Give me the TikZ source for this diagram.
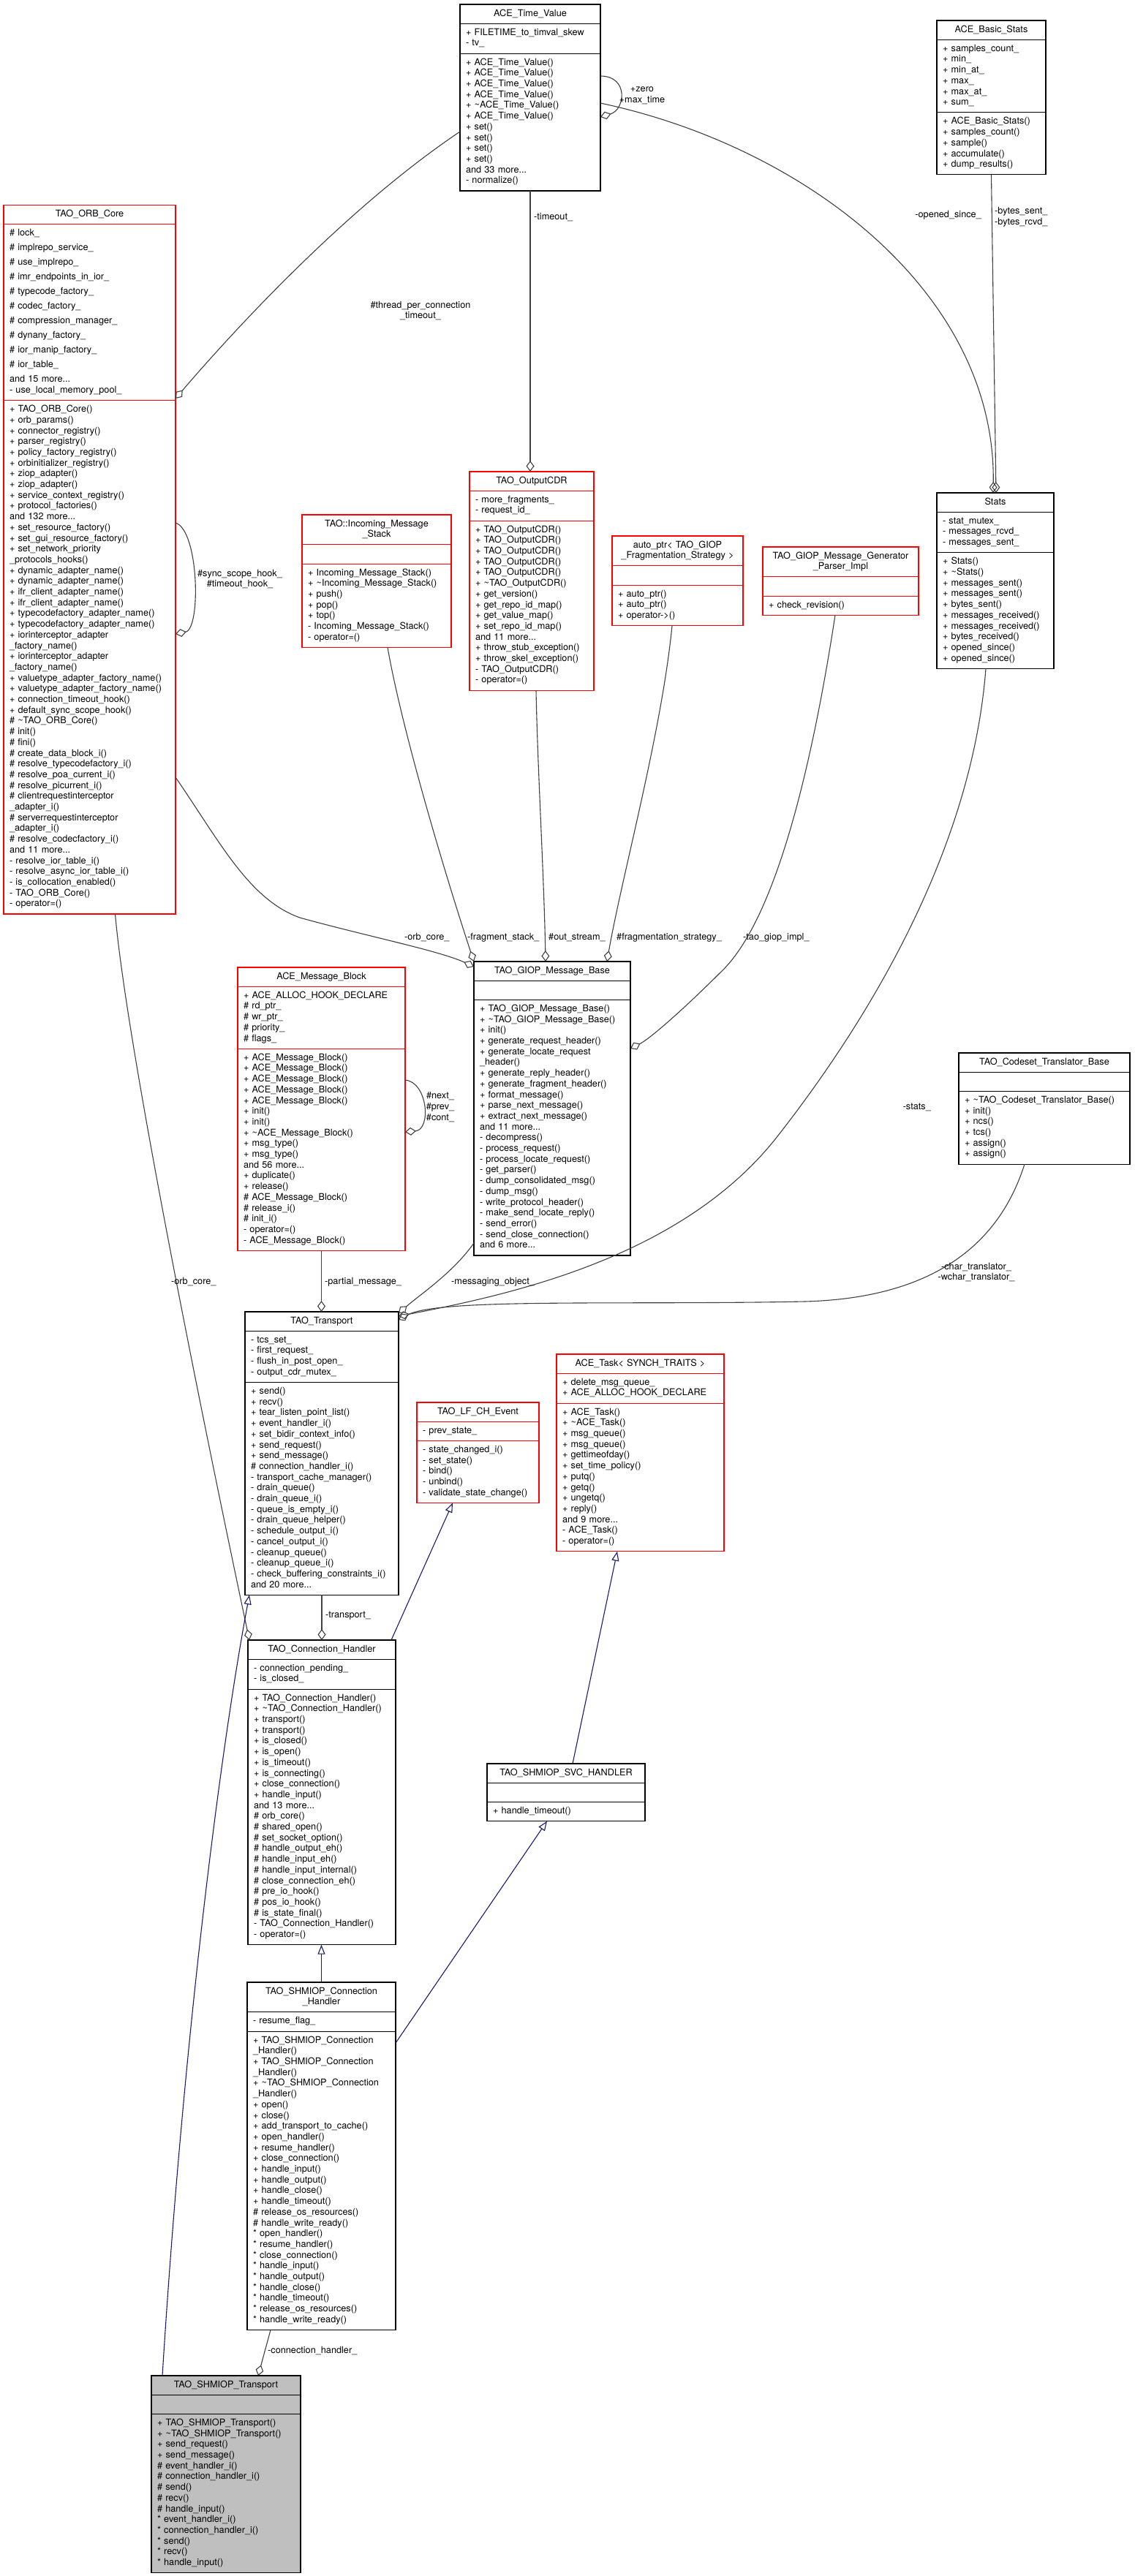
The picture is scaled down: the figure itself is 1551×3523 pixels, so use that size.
\documentclass[tikz,border=0pt]{standalone}
\usepackage{fontspec}
\setmainfont{TeX Gyre Heros}
\usetikzlibrary{shapes.multipart,arrows.meta}
\definecolor{edgegray}{HTML}{404040}
\definecolor{inhblue}{HTML}{191970}
\definecolor{leafgray}{HTML}{BFBFBF}
\begin{document}
\begin{tikzpicture}
  [x=1pt,y=-1pt,
   every node/.style={font=\fontsize{12.7}{14.7}\selectfont},
   cls/.style={rectangle split,rectangle split parts=3,draw=black,line width=1.1pt,
     inner xsep=8pt,inner ysep=5.2pt,outer sep=0pt,align=left,anchor=north west,fill=white},
   cut/.style={cls,draw=red},
   focus/.style={cls,fill=leafgray},
   lbl/.style={inner sep=0pt},
   use/.style={draw=edgegray,line width=1.1pt,-{Diamond[open,length=15pt,width=11pt]}},
   isa/.style={draw=inhblue,line width=1.1pt,-{Triangle[open,length=13pt,width=10pt]}}]
 \useasboundingbox (0,0) rectangle (1551,3523);
 \fill[white] (0,0) rectangle (1551,3523);

 % classes
 \node[cls,text width=176pt] (tv) at (629,6)
  {\makebox[\linewidth]{\strut ACE\_Time\_Value}
   \nodepart{two}\strut + FILETIME\_to\_timval\_skew\\- tv\_\strut
   \nodepart{three}\strut + ACE\_Time\_Value()\\+ ACE\_Time\_Value()\\+ ACE\_Time\_Value()\\+ ACE\_Time\_Value()\\+ \textasciitilde ACE\_Time\_Value()\\+ ACE\_Time\_Value()\\+ set()\\+ set()\\+ set()\\+ set()\\and 33 more...\\- normalize()\strut};
 \node[cls,text width=133pt] (bstats) at (1281,28)
  {\makebox[\linewidth]{\strut ACE\_Basic\_Stats}
   \nodepart{two}\strut + samples\_count\_\\+ min\_\\+ min\_at\_\\+ max\_\\+ max\_at\_\\+ sum\_\strut
   \nodepart{three}\strut + ACE\_Basic\_Stats()\\+ samples\_count()\\+ sample()\\+ accumulate()\\+ dump\_results()\strut};
 \node[cut,text width=219pt,anchor=south west] (orb) at (5,1250)
  {\makebox[\linewidth]{\strut TAO\_ORB\_Core}
   \nodepart{two}\setlength{\baselineskip}{20pt}\strut \# lock\_\\\# implrepo\_service\_\\\# use\_implrepo\_\\\# imr\_endpoints\_in\_ior\_\\\# typecode\_factory\_\\\# codec\_factory\_\\\# compression\_manager\_\\\# dynany\_factory\_\\\# ior\_manip\_factory\_\\\# ior\_table\_\\and 15 more...\\- use\_local\_memory\_pool\_\strut
   \nodepart{three}\strut + TAO\_ORB\_Core()\\+ orb\_params()\\+ connector\_registry()\\+ parser\_registry()\\+ policy\_factory\_registry()\\+ orbinitializer\_registry()\\+ ziop\_adapter()\\+ ziop\_adapter()\\+ service\_context\_registry()\\+ protocol\_factories()\\and 132 more...\\+ set\_resource\_factory()\\+ set\_gui\_resource\_factory()\\+ set\_network\_priority\\\_protocols\_hooks()\\+ dynamic\_adapter\_name()\\+ dynamic\_adapter\_name()\\+ ifr\_client\_adapter\_name()\\+ ifr\_client\_adapter\_name()\\+ typecodefactory\_adapter\_name()\\+ typecodefactory\_adapter\_name()\\+ iorinterceptor\_adapter\\\_factory\_name()\\+ iorinterceptor\_adapter\\\_factory\_name()\\+ valuetype\_adapter\_factory\_name()\\+ valuetype\_adapter\_factory\_name()\\+ connection\_timeout\_hook()\\+ default\_sync\_scope\_hook()\\\# \textasciitilde TAO\_ORB\_Core()\\\# init()\\\# fini()\\\# create\_data\_block\_i()\\\# resolve\_typecodefactory\_i()\\\# resolve\_poa\_current\_i()\\\# resolve\_picurrent\_i()\\\# clientrequestinterceptor\\\_adapter\_i()\\\# serverrequestinterceptor\\\_adapter\_i()\\\# resolve\_codecfactory\_i()\\and 11 more...\\- resolve\_ior\_table\_i()\\- resolve\_async\_ior\_table\_i()\\- is\_collocation\_enabled()\\- TAO\_ORB\_Core()\\- operator=()\strut};
 \node[cut,text width=188pt] (ims) at (413,704)
  {\makebox[\linewidth]{\strut TAO::Incoming\_Message}\\\makebox[\linewidth]{\_Stack\strut}
   \nodepart{two}\strut
   \nodepart{three}\strut + Incoming\_Message\_Stack()\\+ \textasciitilde Incoming\_Message\_Stack()\\+ push()\\+ pop()\\+ top()\\- Incoming\_Message\_Stack()\\- operator=()\strut};
 \node[cut,text width=154pt] (cdr) at (642,645)
  {\makebox[\linewidth]{\strut TAO\_OutputCDR}
   \nodepart{two}\strut - more\_fragments\_\\- request\_id\_\strut
   \nodepart{three}\strut + TAO\_OutputCDR()\\+ TAO\_OutputCDR()\\+ TAO\_OutputCDR()\\+ TAO\_OutputCDR()\\+ TAO\_OutputCDR()\\+ \textasciitilde TAO\_OutputCDR()\\+ get\_version()\\+ get\_repo\_id\_map()\\+ get\_value\_map()\\+ set\_repo\_id\_map()\\and 11 more...\\+ throw\_stub\_exception()\\+ throw\_skel\_exception()\\- TAO\_OutputCDR()\\- operator=()\strut};
 \node[cut,text width=163pt] (aptr) at (837,733)
  {\makebox[\linewidth]{\strut auto\_ptr< TAO\_GIOP}\\\makebox[\linewidth]{\_Fragmentation\_Strategy >\strut}
   \nodepart{two}\strut
   \nodepart{three}\strut + auto\_ptr()\\+ auto\_ptr()\\+ operator->()\strut};
 \node[cut,text width=197pt] (gpi) at (1043,748)
  {\makebox[\linewidth]{\strut TAO\_GIOP\_Message\_Generator}\\\makebox[\linewidth]{\_Parser\_Impl\strut}
   \nodepart{two}\strut
   \nodepart{three}\strut + check\_revision()\strut};
 \node[cls,text width=144pt] (stats) at (1281,674)
  {\makebox[\linewidth]{\strut Stats}
   \nodepart{two}\strut - stat\_mutex\_\\- messages\_rcvd\_\\- messages\_sent\_\strut
   \nodepart{three}\strut + Stats()\\+ \textasciitilde Stats()\\+ messages\_sent()\\+ messages\_sent()\\+ bytes\_sent()\\+ messages\_received()\\+ messages\_received()\\+ bytes\_received()\\+ opened\_since()\\+ opened\_since()\strut};
 \node[cut,text width=213pt] (amb) at (325,1323)
  {\makebox[\linewidth]{\strut ACE\_Message\_Block}
   \nodepart{two}\strut + ACE\_ALLOC\_HOOK\_DECLARE\\\# rd\_ptr\_\\\# wr\_ptr\_\\\# priority\_\\\# flags\_\strut
   \nodepart{three}\strut + ACE\_Message\_Block()\\+ ACE\_Message\_Block()\\+ ACE\_Message\_Block()\\+ ACE\_Message\_Block()\\+ ACE\_Message\_Block()\\+ init()\\+ init()\\+ \textasciitilde ACE\_Message\_Block()\\+ msg\_type()\\+ msg\_type()\\and 56 more...\\+ duplicate()\\+ release()\\\# ACE\_Message\_Block()\\\# release\_i()\\\# init\_i()\\- operator=()\\- ACE\_Message\_Block()\strut};
 \node[cls,text width=198pt] (gmb) at (648,1315)
  {\makebox[\linewidth]{\strut TAO\_GIOP\_Message\_Base}
   \nodepart{two}\strut
   \nodepart{three}\strut + TAO\_GIOP\_Message\_Base()\\+ \textasciitilde TAO\_GIOP\_Message\_Base()\\+ init()\\+ generate\_request\_header()\\+ generate\_locate\_request\\\_header()\\+ generate\_reply\_header()\\+ generate\_fragment\_header()\\+ format\_message()\\+ parse\_next\_message()\\+ extract\_next\_message()\\and 11 more...\\- decompress()\\- process\_request()\\- process\_locate\_request()\\- get\_parser()\\- dump\_consolidated\_msg()\\- dump\_msg()\\- write\_protocol\_header()\\- make\_send\_locate\_reply()\\- send\_error()\\- send\_close\_connection()\\and 6 more...\strut};
 \node[cls,text width=218pt] (ctb) at (1311,1440)
  {\makebox[\linewidth]{\strut TAO\_Codeset\_Translator\_Base}
   \nodepart{two}\strut
   \nodepart{three}\strut + \textasciitilde TAO\_Codeset\_Translator\_Base()\\+ init()\\+ ncs()\\+ tcs()\\+ assign()\\+ assign()\strut};
 \node[cls,text width=194pt] (tr) at (335,1794)
  {\makebox[\linewidth]{\strut TAO\_Transport}
   \nodepart{two}\strut - tcs\_set\_\\- first\_request\_\\- flush\_in\_post\_open\_\\- output\_cdr\_mutex\_\strut
   \nodepart{three}\strut + send()\\+ recv()\\+ tear\_listen\_point\_list()\\+ event\_handler\_i()\\+ set\_bidir\_context\_info()\\+ send\_request()\\+ send\_message()\\\# connection\_handler\_i()\\- transport\_cache\_manager()\\- drain\_queue()\\- drain\_queue\_i()\\- queue\_is\_empty\_i()\\- drain\_queue\_helper()\\- schedule\_output\_i()\\- cancel\_output\_i()\\- cleanup\_queue()\\- cleanup\_queue\_i()\\- check\_buffering\_constraints\_i()\\and 20 more...\strut};
 \node[cut,text width=151pt] (lfch) at (570,1918)
  {\makebox[\linewidth]{\strut TAO\_LF\_CH\_Event}
   \nodepart{two}\strut - prev\_state\_\strut
   \nodepart{three}\strut - state\_changed\_i()\\- set\_state()\\- bind()\\- unbind()\\- validate\_state\_change()\strut};
 \node[cut,text width=213pt] (task) at (761,1852)
  {\makebox[\linewidth]{\strut ACE\_Task< SYNCH\_TRAITS >}
   \nodepart{two}\strut + delete\_msg\_queue\_\\+ ACE\_ALLOC\_HOOK\_DECLARE\strut
   \nodepart{three}\strut + ACE\_Task()\\+ \textasciitilde ACE\_Task()\\+ msg\_queue()\\+ msg\_queue()\\+ gettimeofday()\\+ set\_time\_policy()\\+ putq()\\+ getq()\\+ ungetq()\\+ reply()\\and 9 more...\\- ACE\_Task()\\- operator=()\strut};
 \node[cls,text width=186pt] (ch) at (339,2243)
  {\makebox[\linewidth]{\strut TAO\_Connection\_Handler}
   \nodepart{two}\strut - connection\_pending\_\\- is\_closed\_\strut
   \nodepart{three}\strut + TAO\_Connection\_Handler()\\+ \textasciitilde TAO\_Connection\_Handler()\\+ transport()\\+ transport()\\+ is\_closed()\\+ is\_open()\\+ is\_timeout()\\+ is\_connecting()\\+ close\_connection()\\+ handle\_input()\\and 13 more...\\\# orb\_core()\\\# shared\_open()\\\# set\_socket\_option()\\\# handle\_output\_eh()\\\# handle\_input\_eh()\\\# handle\_input\_internal()\\\# close\_connection\_eh()\\\# pre\_io\_hook()\\\# pos\_io\_hook()\\\# is\_state\_final()\\- TAO\_Connection\_Handler()\\- operator=()\strut};
 \node[cls,text width=200pt] (svc) at (666,2412)
  {\makebox[\linewidth]{\strut TAO\_SHMIOP\_SVC\_HANDLER}
   \nodepart{two}\strut
   \nodepart{three}\strut + handle\_timeout()\strut};
 \node[cls,text width=187pt] (shch) at (338,2711)
  {\makebox[\linewidth]{\strut TAO\_SHMIOP\_Connection}\\\makebox[\linewidth]{\_Handler\strut}
   \nodepart{two}\strut - resume\_flag\_\strut
   \nodepart{three}\strut + TAO\_SHMIOP\_Connection\\\_Handler()\\+ TAO\_SHMIOP\_Connection\\\_Handler()\\+ \textasciitilde TAO\_SHMIOP\_Connection\\\_Handler()\\+ open()\\+ close()\\+ add\_transport\_to\_cache()\\+ open\_handler()\\+ resume\_handler()\\+ close\_connection()\\+ handle\_input()\\+ handle\_output()\\+ handle\_close()\\+ handle\_timeout()\\\# release\_os\_resources()\\\# handle\_write\_ready()\\{}* open\_handler()\\{}* resume\_handler()\\{}* close\_connection()\\{}* handle\_input()\\{}* handle\_output()\\{}* handle\_close()\\{}* handle\_timeout()\\{}* release\_os\_resources()\\{}* handle\_write\_ready()\strut};
 \node[focus,text width=188pt] (shtr) at (207,3249)
  {\makebox[\linewidth]{\strut TAO\_SHMIOP\_Transport}
   \nodepart{two}\strut
   \nodepart{three}\strut + TAO\_SHMIOP\_Transport()\\+ \textasciitilde TAO\_SHMIOP\_Transport()\\+ send\_request()\\+ send\_message()\\\# event\_handler\_i()\\\# connection\_handler\_i()\\\# send()\\\# recv()\\\# handle\_input()\\{}* event\_handler\_i()\\{}* connection\_handler\_i()\\{}* send()\\{}* recv()\\{}* handle\_input()\strut};

 % members
 \draw[use] ([yshift=-174pt]tv.north west) .. controls (480,280) and (330,440) .. ([yshift=705pt]orb.south east);
 \draw[use] ([yshift=-98pt]tv.north east) .. controls (860,104) and (855,150) .. ([yshift=-154pt]tv.north east);
 \draw[use] (tv.south) -- (tv.south |- cdr.north);
 \draw[use] ([yshift=-135pt]tv.north east) .. controls (1100,200) and (1362,400) .. ([xshift=-3pt]stats.north);
 \draw[use] (bstats.south) -- ([xshift=1pt]stats.north);
 \draw[use] ([yshift=535pt]orb.south east) .. controls (272,725) and (275,860) .. ([yshift=383pt]orb.south east);
 \draw[use] ([yshift=187pt]orb.south east) .. controls (300,1150) and (340,1230) .. (410,1255) .. controls (500,1280) and (600,1300) .. ([yshift=-7pt]gmb.north west);
 \draw[use] ([xshift=35pt]orb.south) .. controls (175,1450) and (300,2050) .. ([xshift=2pt]ch.north west);
 \draw[use] ([xshift=15pt]ims.south) .. controls (550,1000) and (610,1200) .. (gmb.north west);
 \draw[use] ([xshift=6pt]cdr.south) .. controls (735,1050) and (744,1200) .. ([xshift=-9pt]gmb.north);
 \draw[use] ([xshift=-7.5pt]aptr.south) .. controls (905,1000) and (850,1200) .. ([xshift=75pt]gmb.north);
 \draw[use] ([xshift=-7.5pt]gpi.south) .. controls (1110,1050) and (1060,1260) .. (985,1330) .. controls (940,1375) and (890,1420) .. ([yshift=-119pt]gmb.north east);
 \draw[use] ([xshift=-13pt]stats.south) .. controls (1330,1150) and (1200,1380) .. (1060,1558) .. controls (930,1720) and (700,1770) .. ([yshift=-6pt]tr.north east);
 \draw[use] ([yshift=-154pt]amb.north east) .. controls (585,1480) and (590,1545) .. ([yshift=-225pt]amb.north east);
 \draw[use] (amb.south) -- (amb.south |- tr.north);
 \draw[use] ([yshift=17pt]gmb.south west) .. controls (620,1740) and (575,1770) .. ([yshift=-2pt]tr.north east);
 \draw[use] ([xshift=-27pt]ctb.south) .. controls (1370,1690) and (1290,1775) .. (1100,1780) .. controls (850,1785) and (600,1775) .. ([yshift=-11pt]tr.north east);
 \draw[use] (tr.south) -- (tr.south |- ch.north);
 \draw[use] ([xshift=-69.5pt]shch.south) -- ([xshift=44pt]shtr.north);

 % bases
 \draw[isa] ([xshift=-6pt]ch.north east) -- ([xshift=-34.5pt]lfch.south);
 \draw[isa] (shch.north) -- (shch.north |- ch.south);
 \draw[isa] ([yshift=-83pt]shch.north east) -- ([xshift=-26pt]svc.south);
 \draw[isa] ([xshift=9pt]svc.north) -- ([xshift=-31.5pt]task.south);
 \draw[isa] ([xshift=15pt]shtr.north west) .. controls (250,2800) and (300,2400) .. ([xshift=6pt]tr.south west);

 % labels
 \node[lbl,align=center] (lThread) at (575,425) {\#thread\_per\_connection\\\_timeout\_};
 \node[lbl,align=center] (lZero) at (878,131) {+zero\\+max\_time};
 \node[lbl,anchor=west] (lTimeout) at (730,297) {-timeout\_};
 \node[lbl,anchor=east] (lOpened) at (1342,294) {-opened\_since\_};
 \node[lbl,anchor=west,align=left] (lBytes) at (1360,297) {-bytes\_sent\_\\-bytes\_rcvd\_};
 \node[lbl,align=center] (lHook) at (328,792) {\#sync\_scope\_hook\_\\\#timeout\_hook\_};
 \node[lbl,anchor=west] (lOrbGiop) at (553,1282) {-orb\_core\_};
 \node[lbl,anchor=west] (lFrag) at (639,1282) {-fragment\_stack\_};
 \node[lbl,anchor=west] (lOut) at (750,1282) {\#out\_stream\_};
 \node[lbl,anchor=west] (lStrat) at (843,1282) {\#fragmentation\_strategy\_};
 \node[lbl,anchor=west] (lImpl) at (1016,1282) {-tao\_giop\_impl\_};
 \node[lbl,align=center] (lNext) at (602,1514) {\#next\_\\\#prev\_\\\#cont\_};
 \node[lbl,anchor=east] (lStats) at (1273,1514) {-stats\_};
 \node[lbl,align=center] (lTrans) at (1335,1740) {-char\_translator\_\\-wchar\_translator\_};
 \node[lbl,anchor=west] (lPartial) at (444,1753) {-partial\_message\_};
 \node[lbl,anchor=west] (lMsg) at (617,1753) {-messaging\_object\_};
 \node[lbl,anchor=west] (lOrbCh) at (234,1753) {-orb\_core\_};
 \node[lbl,anchor=west] (lTransport) at (445,2210) {-transport\_};
 \node[lbl,anchor=west] (lConn) at (366,3215) {-connection\_handler\_};
\end{tikzpicture}
\end{document}
